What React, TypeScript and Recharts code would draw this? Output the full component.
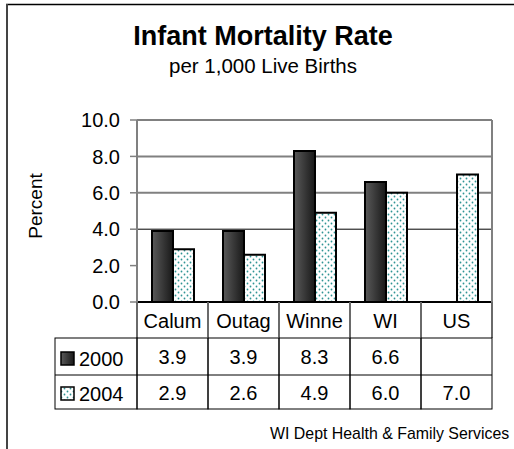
import React from 'react';
import { BarChart, Bar, XAxis, YAxis, CartesianGrid } from 'recharts';

const categories = ['Calum', 'Outag', 'Winne', 'WI', 'US'];
const series2000: (number | null)[] = [3.9, 3.9, 8.3, 6.6, null];
const series2004: (number | null)[] = [2.9, 2.6, 4.9, 6.0, 7.0];
const seriesNames = ['2000', '2004'];
const yTicks = [0, 2, 4, 6, 8, 10];
const grayGrid = [6, 8];
const darkGrid = [4];

const titleText = 'Infant Mortality Rate';
const subtitleText = 'per 1,000 Live Births';
const yLabelText = 'Percent';
const footerText = 'WI Dept Health & Family Services';

const FONT = "'Liberation Sans', Arial, sans-serif";

const data = categories.map((c, i) => ({ cat: c, y2000: series2000[i], y2004: series2004[i] }));

const fmt = (v: number | null) => (v === null || v === undefined ? '' : v.toFixed(1));

const TableTick = (props: any) => {
  const { x, y, payload } = props;
  const i = props.index ?? payload.index;
  const half = payload.offset;
  const left = x - half;
  const right = x + half;
  return (
    <g fontFamily={FONT}>
      <line x1={left} y1={y} x2={left} y2={y + 36} stroke="#6a6a6a" strokeWidth={2} />
      <line x1={right} y1={y} x2={right} y2={y + 36} stroke="#6a6a6a" strokeWidth={2} />
      <text x={x} y={y + 26} textAnchor="middle" fontSize={20} fill="#000">{payload.value}</text>
      <rect x={left} y={y + 36} width={2 * half} height={71} fill="none" stroke="#000" strokeWidth={1} />
      <line x1={left} y1={y + 73} x2={right} y2={y + 73} stroke="#000" strokeWidth={1} />
      <text x={x} y={y + 62} textAnchor="middle" fontSize={20} fill="#000">{fmt(series2000[i])}</text>
      <text x={x} y={y + 98} textAnchor="middle" fontSize={20} fill="#000">{fmt(series2004[i])}</text>
      {i === 0 && (
        <g>
          <rect x={left - 82} y={y + 36} width={82} height={71} fill="none" stroke="#000" strokeWidth={1} />
          <line x1={left - 82} y1={y + 73} x2={left} y2={y + 73} stroke="#000" strokeWidth={1} />
          <rect x={left - 76} y={y + 50} width={13} height={13} fill="url(#grad2000)" stroke="#000" strokeWidth={1.5} />
          <text x={left - 58} y={y + 64} fontSize={20} fill="#000">{seriesNames[0]}</text>
          <rect x={left - 76} y={y + 85} width={13} height={13} fill="url(#dots2004)" stroke="#000" strokeWidth={1.5} />
          <text x={left - 58} y={y + 99} fontSize={20} fill="#000">{seriesNames[1]}</text>
        </g>
      )}
    </g>
  );
};

export default function App() {
  return (
    <div style={{ position: 'absolute', left: 0, top: 0, width: 514, height: 449, background: '#fff', overflow: 'hidden' }}>
      <BarChart
        width={514}
        height={449}
        data={data}
        margin={{ top: 120, right: 0, bottom: 0, left: 0 }}
        barSize={21}
        barGap={0}
      >
        <defs>
          <linearGradient id="grad2000" x1="0" y1="0" x2="1" y2="0">
            <stop offset="0%" stopColor="#5a5a5a" />
            <stop offset="100%" stopColor="#181818" />
          </linearGradient>
          <pattern id="dots2004" width="6" height="6" patternUnits="userSpaceOnUse">
            <rect width="6" height="6" fill="#fff" />
            <circle cx="1.5" cy="1.5" r="0.9" fill="#2f9494" />
            <circle cx="4.5" cy="4.5" r="0.9" fill="#2f9494" />
          </pattern>
        </defs>
        <CartesianGrid vertical={false} horizontalValues={grayGrid} stroke="#808080" strokeWidth={2} />
        <CartesianGrid vertical={false} horizontalValues={darkGrid} stroke="#000" strokeWidth={1} />
        <CartesianGrid vertical={false} horizontalValues={[10]} stroke="#808080" strokeWidth={2} />
        <XAxis
          dataKey="cat"
          height={147}
          interval={0}
          tickLine={false}
          tickSize={0}
          tickMargin={0}
          axisLine={{ stroke: '#000', strokeWidth: 2 }}
          tick={<TableTick />}
        />
        <YAxis
          width={137}
          domain={[0, 10]}
          ticks={yTicks}
          interval={0}
          tickFormatter={(v: number) => v.toFixed(1)}
          tick={{ fill: '#000', fontSize: 20, fontFamily: FONT }}
          tickSize={7}
          tickMargin={10}
          tickLine={{ stroke: '#808080', strokeWidth: 1.5 }}
          axisLine={{ stroke: '#808080', strokeWidth: 2 }}
        />
        <YAxis
          yAxisId="right"
          orientation="right"
          width={22}
          domain={[0, 10]}
          tick={false}
          tickLine={false}
          axisLine={{ stroke: '#808080', strokeWidth: 2 }}
        />
        <Bar dataKey="y2000" name={seriesNames[0]} fill="url(#grad2000)" stroke="#000" strokeWidth={2} isAnimationActive={false} />
        <Bar dataKey="y2004" name={seriesNames[1]} fill="url(#dots2004)" stroke="#000" strokeWidth={2} isAnimationActive={false} />
      </BarChart>
      <svg width={514} height={449} style={{ position: 'absolute', left: 0, top: 0, pointerEvents: 'none' }} fontFamily={FONT}>
        <line x1={6} y1={4.5} x2={514} y2={4.5} stroke="#000" strokeWidth={1.5} />
        <line x1={7} y1={4} x2={7} y2={449} stroke="#444" strokeWidth={2} />
        <text x={263} y={45} textAnchor="middle" fontSize={27} fontWeight="bold" fill="#000">{titleText}</text>
        <text x={263} y={73} textAnchor="middle" fontSize={20.5} fill="#000">{subtitleText}</text>
        <text x={42} y={206} transform="rotate(-90 42 206)" textAnchor="middle" fontSize={19} fill="#000">{yLabelText}</text>
        <text x={270} y={439} fontSize={15.9} fill="#000">{footerText}</text>
      </svg>
    </div>
  );
}
